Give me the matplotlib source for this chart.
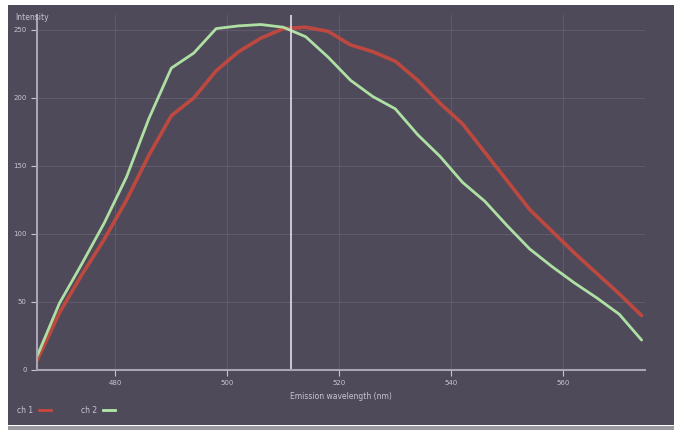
import numpy as np
import matplotlib
matplotlib.use("Agg")
import matplotlib.pyplot as plt
from matplotlib.patches import Rectangle
from matplotlib.lines import Line2D

# wavelength grid (nm) and the two emission spectra
wavelength = [466, 470, 474, 478, 482, 486, 490, 494, 498, 502, 506, 510, 514, 518,
              522, 526, 530, 534, 538, 542, 546, 550, 554, 558, 562, 566, 570, 574]
ch1 = [7, 42, 70, 96, 125, 158, 187, 200, 220, 234, 244, 251, 252, 249,
       239, 234, 227, 213, 196, 181, 160, 139, 118, 102, 86, 71, 56, 40]
ch2 = [10, 49, 78, 108, 142, 185, 222, 233, 251, 253, 254, 252, 245, 230,
       213, 201, 192, 173, 157, 138, 124, 106, 89, 76, 64, 53, 41, 22]
x_ticks = [480, 500, 520, 540, 560]
y_ticks = [0, 50, 100, 150, 200, 250]
series_names = ["ch 1", "ch 2"]
marker_nm = 511.3

bg = "#4e4a5a"
fg = "#c9c4d0"
grid_c = "#5f5b6b"
red = "#c9483c"
green = "#b4e8a8"

fig = plt.figure(figsize=(6.74, 4.30), dpi=100, facecolor="white")
fig.patches.append(Rectangle((8 / 674, 5 / 430), 1, 420 / 430, transform=fig.transFigure,
                             facecolor=bg, edgecolor="none", zorder=-10))
fig.patches.append(Rectangle((8 / 674, 0), 1, 4 / 430, transform=fig.transFigure,
                             facecolor="#9a98a0", edgecolor="none", zorder=-10))

ax = fig.add_axes([37 / 674, 60 / 430, 608 / 674, 355 / 430])
ax.set_facecolor(bg)
ax.plot(wavelength, ch1, color=red, lw=2.6, alpha=0.9, solid_capstyle="round")
ax.plot(wavelength, ch2, color=green, lw=2.0, alpha=0.95, solid_capstyle="round")
ax.axvline(marker_nm, color="#e4e0ea", lw=1.2)

ax.set_xlim(466, 574.6)
ax.set_ylim(0, 261)
ax.set_xticks(x_ticks)
ax.set_yticks(y_ticks)
ax.grid(True, color=grid_c, lw=0.8)
for s in ["top", "right"]:
    ax.spines[s].set_visible(False)
for s in ["left", "bottom"]:
    ax.spines[s].set_color("#aaa5b4")
    ax.spines[s].set_linewidth(1.5)
ax.tick_params(colors=fg, labelsize=5, length=4, width=0.8)
ax.set_xlabel("Emission wavelength (nm)", color=fg, fontsize=5.5, labelpad=4)
fig.text(15 / 674, 1 - 17 / 430, "Intensity", color=fg, fontsize=5.5, va="center")

handles = [Line2D([0], [0], color=red, lw=2), Line2D([0], [0], color=green, lw=2)]
fig.legend(handles, series_names, loc="lower left", bbox_to_anchor=(0.015, 0.02), ncol=2,
           frameon=False, fontsize=5.5, labelcolor=fg, handlelength=1.5,
           columnspacing=4, markerfirst=False)

fig.savefig("out.png", dpi=100, facecolor=fig.get_facecolor())
